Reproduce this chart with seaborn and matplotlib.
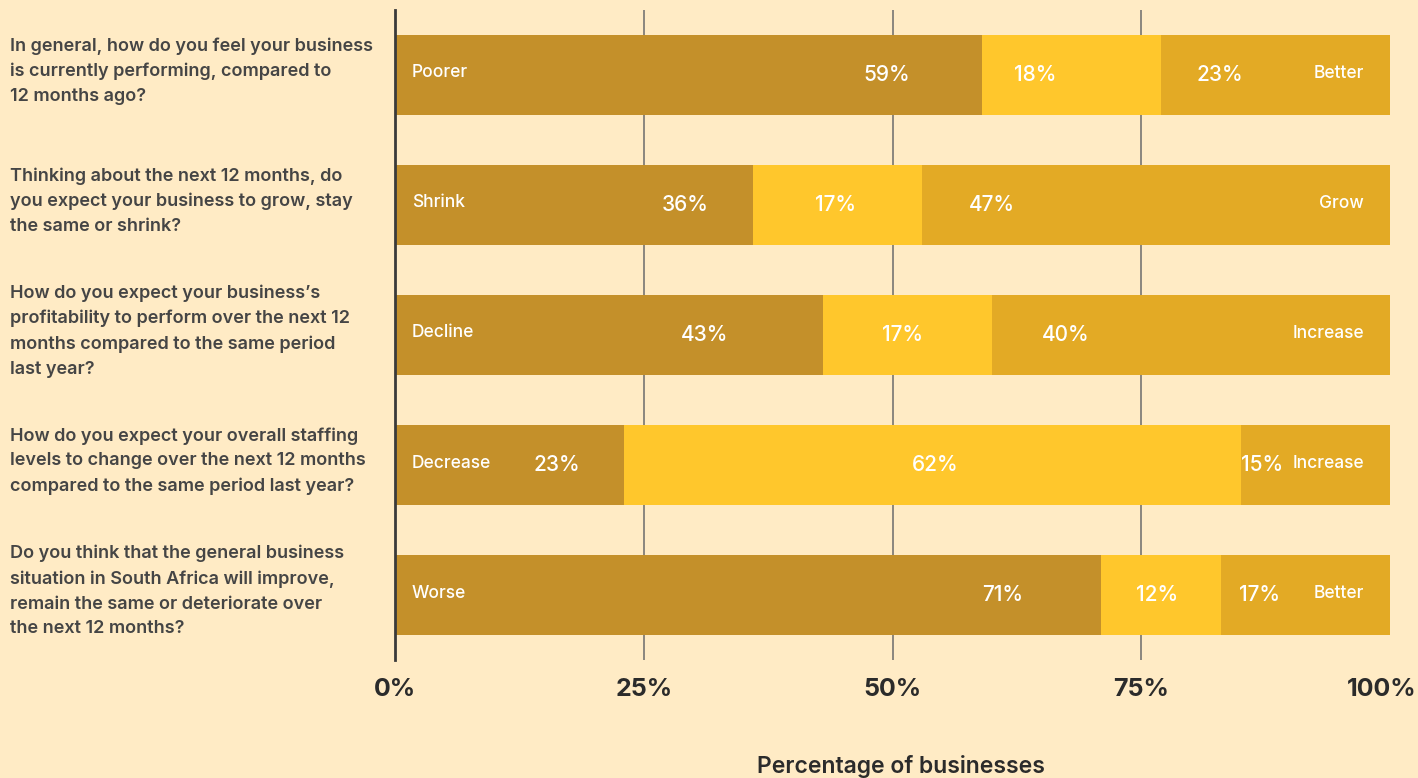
import matplotlib
matplotlib.use("Agg")
import matplotlib.pyplot as plt
import matplotlib.transforms as mtransforms
import pandas as pd
import seaborn as sns

# ---- survey data -------------------------------------------------------
questions = [
    "In general, how do you feel your business\nis currently performing, compared to\n12 months ago?",
    "Thinking about the next 12 months, do\nyou expect your business to grow, stay\nthe same or shrink?",
    "How do you expect your business\u2019s\nprofitability to perform over the next 12\nmonths compared to the same period\nlast year?",
    "How do you expect your overall staffing\nlevels to change over the next 12 months\ncompared to the same period last year?",
    "Do you think that the general business\nsituation in South Africa will improve,\nremain the same or deteriorate over\nthe next 12 months?",
]
low_labels = ["Poorer", "Shrink", "Decline", "Decrease", "Worse"]
high_labels = ["Better", "Grow", "Increase", "Increase", "Better"]

low_pct = [59, 36, 43, 23, 71]
same_pct = [18, 17, 17, 62, 12]
high_pct = [23, 47, 40, 15, 17]

x_ticks = [0, 25, 50, 75, 100]
x_tick_labels = ["0%", "25%", "50%", "75%", "100%"]
x_title = "Percentage of businesses"

# where each percentage label sits along its bar (axis percent)
low_text_x = [49.4, 29.2, 31.1, 16.3, 61.1]
same_text_x = [64.3, 44.3, 51.0, 54.3, 76.6]
high_text_x = [82.9, 60.0, 67.4, 87.1, 86.9]

# ---- style -------------------------------------------------------------
BG = "#FFEBC5"
C_LOW = "#C4902A"
C_SAME = "#FFC72C"
C_HIGH = "#E3AA25"
DARK = "#2B2B2B"
QTEXT = "#454545"

sns.set_theme(style="white", rc={"axes.facecolor": BG, "figure.facecolor": BG})
plt.rcParams["font.family"] = ["Inter", "DejaVu Sans"]

fig = plt.figure(figsize=(14.18, 7.78), dpi=100)
W, H = 1418, 778
ax = fig.add_axes([395 / W, 1 - 660 / H, (1390 - 395) / W, (660 - 10) / H])

rows = [f"r{i}" for i in range(len(questions))]
df = pd.DataFrame({
    "row": rows,
    "low": low_pct,
    "low_same": [a + b for a, b in zip(low_pct, same_pct)],
    "total": [a + b + c for a, b, c in zip(low_pct, same_pct, high_pct)],
})

# stacked bars drawn as overlapping cumulative totals
for col, colr in [("total", C_HIGH), ("low_same", C_SAME), ("low", C_LOW)]:
    sns.barplot(data=df, x=col, y="row", orient="h", order=rows,
                color=colr, saturation=1, width=0.615,
                edgecolor="none", linewidth=0, ax=ax, zorder=2)

# vertical guide lines behind the bars
ax.vlines(x_ticks[1:-1], -0.5, len(rows) - 0.5, colors="#6B6B6B",
          linewidth=1.1, zorder=0)

ax.set_xlim(0, 100)
ax.set_ylim(len(rows) - 0.5, -0.5)
ax.set_xticks(x_ticks, x_tick_labels)
ax.set_yticks([])
ax.set_xlabel("")
ax.set_ylabel("")
ax.tick_params(axis="x", length=0, pad=13, labelsize=18, labelcolor=DARK)
for lbl in ax.get_xticklabels():
    lbl.set_fontweight("bold")
# keep the last tick label inside the canvas
last = ax.get_xticklabels()[-1]
last.set_transform(last.get_transform()
                   + mtransforms.ScaledTranslation(-8 / 100, 0, fig.dpi_scale_trans))

for side in ["top", "right", "bottom"]:
    ax.spines[side].set_visible(False)
ax.spines["left"].set_color("#3A3A3A")
ax.spines["left"].set_linewidth(2)
ax.spines["left"].set_zorder(5)

# labels inside the bars
for i in range(len(rows)):
    ax.annotate(low_labels[i], xy=(0, i), xytext=(17, 2), textcoords="offset pixels",
                ha="left", va="center", color="white", fontsize=12.5,
                fontweight="medium", zorder=6)
    ax.annotate(high_labels[i], xy=(100, i), xytext=(-26, 1), textcoords="offset pixels",
                ha="right", va="center", color="white", fontsize=12.5,
                fontweight="medium", zorder=6)
    for xv, val in [(low_text_x[i], low_pct[i]), (same_text_x[i], same_pct[i]),
                    (high_text_x[i], high_pct[i])]:
        ax.text(xv, i, f"{val}%", ha="center", va="center", color="white",
                fontsize=15, fontweight="medium", zorder=6)

# question texts on the left
qtrans = mtransforms.blended_transform_factory(fig.transFigure, ax.transData)
for i, q in enumerate(questions):
    ax.text(10 / W, i - 0.03, q, transform=qtrans, ha="left", va="center",
            fontsize=13, fontweight="semibold", color=QTEXT, linespacing=1.6,
            clip_on=False)

fig.text(901 / W, 1 - 766 / H, x_title, ha="center", va="center",
         fontsize=16.5, fontweight="semibold", color=DARK)

fig.savefig("out.png", dpi=100, facecolor=BG)
